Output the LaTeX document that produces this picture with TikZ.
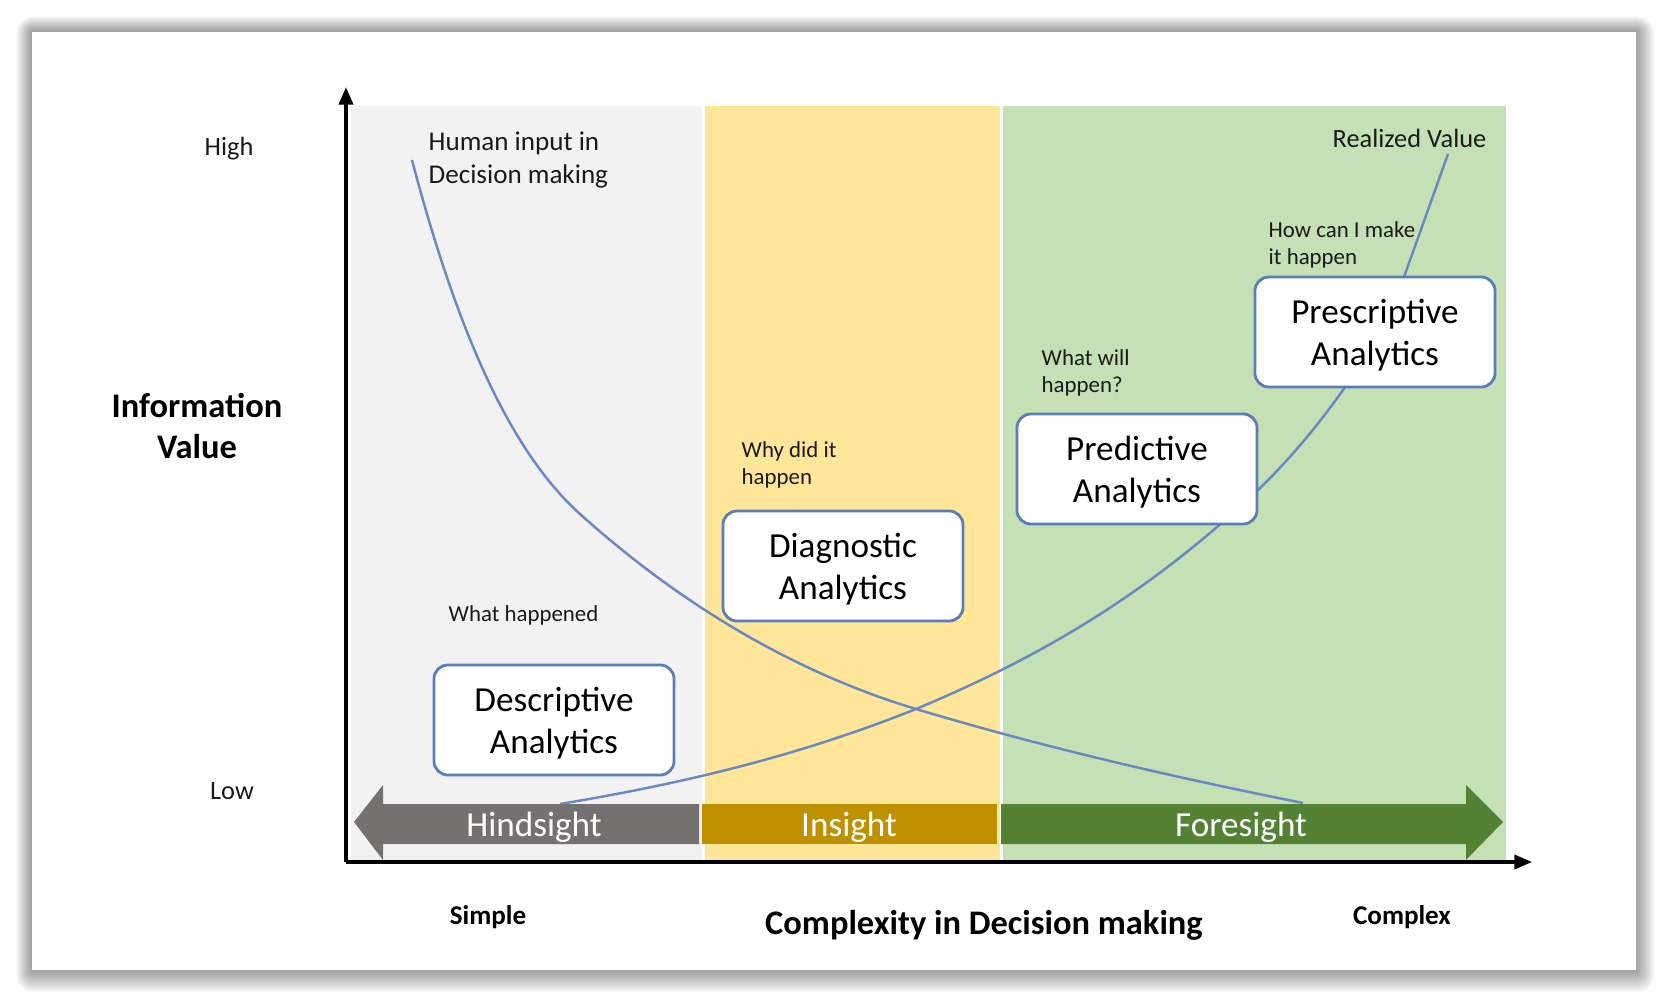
\documentclass[tikz,border=0pt]{standalone}
\usepackage{fontspec}
\setmainfont{Carlito}
\usepackage{xcolor}
\usepackage{tikz}
\usetikzlibrary{arrows.meta,positioning,calc}
\definecolor{hindgray}{HTML}{767171}
\definecolor{insgold}{HTML}{BF9000}
\definecolor{foregreen}{HTML}{548235}
\definecolor{bggray}{HTML}{F2F2F2}
\definecolor{bgyellow}{HTML}{FFE699}
\definecolor{bggreen}{HTML}{C5E0B4}
\definecolor{curveblue}{HTML}{6A89C2}
\definecolor{boxblue}{HTML}{5B7DB8}
\definecolor{inkgray}{HTML}{1A1A1A}

\tikzset{
  anabox/.style={draw=boxblue, line width=0.8pt, fill=white, rounded corners=0.14cm,
    minimum width=2.4cm, minimum height=1.1cm, inner sep=0pt},
  anatext/.style={align=center, inner sep=0pt, font=\fontsize{10}{12.1}\selectfont},
  note/.style={inkgray, align=left, inner sep=0pt, font=\fontsize{6.5}{7.8}\selectfont},
  humanlbl/.style={inkgray, align=left, inner sep=0pt, font=\fontsize{7.7}{9.4}\selectfont},
  axlbl/.style={inkgray, inner sep=0pt, font=\fontsize{7.5}{9}\selectfont},
  bigbold/.style={black, align=center, inner sep=0pt, font=\bfseries\fontsize{9.8}{11.8}\selectfont},
  endbold/.style={black, inner sep=0pt, font=\bfseries\fontsize{7.7}{9}\selectfont},
  bandlbl/.style={white, inner sep=0pt, font=\fontsize{10}{12}\selectfont},
  curve/.style={curveblue, line width=0.7pt},
  axis/.style={black, line width=1pt, -{Triangle[length=5pt,width=4pt]}}
}

% analytics box: empty frame plus its two-line text
\newcommand{\anabox}[3]{%
  \node[anabox] (#1) at (#2) {};
  \node[anatext] (#1-txt) at ([yshift=-0.9pt]#1.center) {#3};}

\begin{document}
\begin{tikzpicture}[x=0.01cm, y=-0.01cm, >=latex]
\useasboundingbox (0,0) rectangle (1668,1003);

% ==========================================
% CARD with soft shadow
% ==========================================
\foreach \i in {1,...,14}
  \fill[black, opacity=0.03, rounded corners=\i*0.012cm]
    (32-\i*1.1,32-\i*1.1) rectangle (1636+\i*1.3,970+\i*1.6);
\fill[white] (32,32) rectangle (1636,970);

% ==========================================
% BACKGROUND BANDS
% ==========================================
\fill[bggray]   (351,106) rectangle (702,860);
\fill[bgyellow] (705,106) rectangle (1000,860);
\fill[bggreen]  (1003,106) rectangle (1506,860);

% ==========================================
% CURVES
% ==========================================
% Human input in decision making
\draw[curve] (412,160) .. controls (457,331) and (510,451) .. (580,514)
  .. controls (690,613) and (806,676) .. (916,709)
  .. controls (1046,748) and (1173,777) .. (1303,803);

% Realized value
\draw[curve] (560,804) .. controls (680,784) and (796,757) .. (916,709)
  .. controls (1031,661) and (1143,599) .. (1258,490)
  .. controls (1303,447) and (1374,361) .. (1404,277) -- (1448,154);

% ==========================================
% HINDSIGHT / INSIGHT / FORESIGHT
% ==========================================
\fill[hindgray] (354,822) -- (383,785) -- (383,804) -- (699,804) -- (699,844)
  -- (383,844) -- (383,860) -- cycle;
\fill[insgold] (702,804) rectangle (997,844);
\fill[foregreen] (1001,804) -- (1466,804) -- (1466,785) -- (1503,822) -- (1466,860)
  -- (1466,844) -- (1001,844) -- cycle;

\node[bandlbl] (hind) at (534,827) {Hindsight};
\node[bandlbl] (ins)  at (849,827) {Insight};
\node[bandlbl] (fore) at (1241,827) {Foresight};

% ==========================================
% AXES
% ==========================================
\coordinate (origin) at (346,862);
\coordinate (ytop) at (346,87);
\coordinate (xend) at (1532,862);
\draw[axis] (origin) -- (ytop);
\draw[axis] (origin) -- (xend);

\node[axlbl] (high) at (229,149) {High};
\node[axlbl] (low)  at (232,791) {Low};
\node[bigbold] (infoval) at (197,426) {Information\\Value};

\node[endbold] (simple)  at (488,917) {Simple};
\node[endbold] (complex) at (1402,917) {Complex};
\node[bigbold] (complexity) at (984,925) {Complexity in Decision making};

% ==========================================
% ANALYTICS BOXES
% ==========================================
\anabox{descr}{554,720}{Descriptive\\Analytics}
\anabox{diagn}{843,566}{Diagnostic\\Analytics}
\anabox{predi}{1137,469}{Predictive\\Analytics}
\anabox{presc}{1375,332}{Prescriptive\\Analytics}

% Questions
\node[note, anchor=west] (whathap)  at (448,615)  {What happened};
\node[note, anchor=west] (whydid)   at (741,465)  {Why did it\\happen};
\node[note, anchor=west] (whatwill) at (1041,373) {What will\\happen?};
\node[note, anchor=west] (howcan)   at (1268,245) {How can I make\\it happen};

% Curve labels
\node[humanlbl, anchor=west] (human) at (428,160) {Human input in\\Decision making};
\node[axlbl, anchor=east] (realized) at (1487,138) {Realized Value};

\end{tikzpicture}
\end{document}
